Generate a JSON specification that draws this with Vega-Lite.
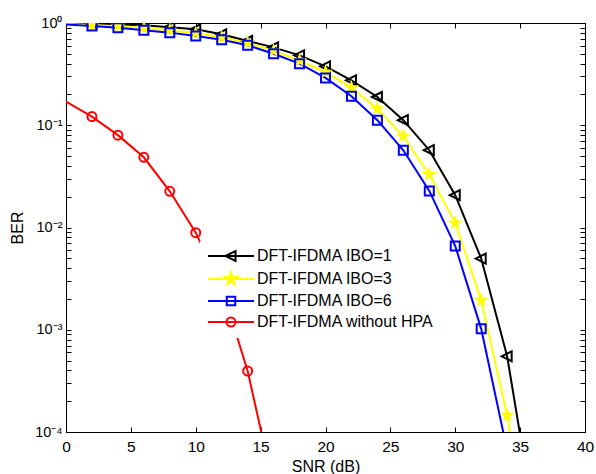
{
  "$schema": "https://vega.github.io/schema/vega-lite/v6.json",
  "width": 519,
  "height": 409,
  "autosize": {"type": "none"},
  "padding": {"left": 66, "top": 23, "right": 11, "bottom": 42},
  "background": "white",
  "config": {
    "font": "Liberation Sans",
    "view": {"stroke": "black", "strokeWidth": 1},
    "axis": {"domainColor": "black", "tickColor": "black", "labelColor": "black", "titleColor": "black", "grid": false, "labelFont": "Liberation Sans", "titleFont": "Liberation Sans", "titleFontWeight": "normal", "domainWidth": 1, "tickWidth": 1}
  },
  "datasets": {
    "ber": [
      {"series": "DFT-IFDMA IBO=1", "snr": 0, "ber": 0.995},
      {"series": "DFT-IFDMA IBO=1", "snr": 2, "ber": 0.985},
      {"series": "DFT-IFDMA IBO=1", "snr": 4, "ber": 0.97},
      {"series": "DFT-IFDMA IBO=1", "snr": 6, "ber": 0.95},
      {"series": "DFT-IFDMA IBO=1", "snr": 8, "ber": 0.91},
      {"series": "DFT-IFDMA IBO=1", "snr": 10, "ber": 0.867},
      {"series": "DFT-IFDMA IBO=1", "snr": 12, "ber": 0.775},
      {"series": "DFT-IFDMA IBO=1", "snr": 14, "ber": 0.667},
      {"series": "DFT-IFDMA IBO=1", "snr": 16, "ber": 0.578},
      {"series": "DFT-IFDMA IBO=1", "snr": 18, "ber": 0.483},
      {"series": "DFT-IFDMA IBO=1", "snr": 20, "ber": 0.377},
      {"series": "DFT-IFDMA IBO=1", "snr": 22, "ber": 0.275},
      {"series": "DFT-IFDMA IBO=1", "snr": 24, "ber": 0.189},
      {"series": "DFT-IFDMA IBO=1", "snr": 26, "ber": 0.112},
      {"series": "DFT-IFDMA IBO=1", "snr": 28, "ber": 0.057},
      {"series": "DFT-IFDMA IBO=1", "snr": 30, "ber": 0.0207},
      {"series": "DFT-IFDMA IBO=1", "snr": 32, "ber": 0.00497},
      {"series": "DFT-IFDMA IBO=1", "snr": 34, "ber": 0.00055},
      {"series": "DFT-IFDMA IBO=1", "snr": 36, "ber": 0.000016},
      {"series": "DFT-IFDMA IBO=3", "snr": 0, "ber": 0.98},
      {"series": "DFT-IFDMA IBO=3", "snr": 2, "ber": 0.955},
      {"series": "DFT-IFDMA IBO=3", "snr": 4, "ber": 0.93},
      {"series": "DFT-IFDMA IBO=3", "snr": 6, "ber": 0.895},
      {"series": "DFT-IFDMA IBO=3", "snr": 8, "ber": 0.85},
      {"series": "DFT-IFDMA IBO=3", "snr": 10, "ber": 0.795},
      {"series": "DFT-IFDMA IBO=3", "snr": 12, "ber": 0.725},
      {"series": "DFT-IFDMA IBO=3", "snr": 14, "ber": 0.64},
      {"series": "DFT-IFDMA IBO=3", "snr": 16, "ber": 0.535},
      {"series": "DFT-IFDMA IBO=3", "snr": 18, "ber": 0.43},
      {"series": "DFT-IFDMA IBO=3", "snr": 20, "ber": 0.33},
      {"series": "DFT-IFDMA IBO=3", "snr": 22, "ber": 0.233},
      {"series": "DFT-IFDMA IBO=3", "snr": 24, "ber": 0.145},
      {"series": "DFT-IFDMA IBO=3", "snr": 26, "ber": 0.078},
      {"series": "DFT-IFDMA IBO=3", "snr": 28, "ber": 0.033},
      {"series": "DFT-IFDMA IBO=3", "snr": 30, "ber": 0.0111},
      {"series": "DFT-IFDMA IBO=3", "snr": 32, "ber": 0.00194},
      {"series": "DFT-IFDMA IBO=3", "snr": 34, "ber": 0.000146},
      {"series": "DFT-IFDMA IBO=3", "snr": 36, "ber": 0.000005},
      {"series": "DFT-IFDMA IBO=6", "snr": 0, "ber": 0.965},
      {"series": "DFT-IFDMA IBO=6", "snr": 2, "ber": 0.935},
      {"series": "DFT-IFDMA IBO=6", "snr": 4, "ber": 0.9},
      {"series": "DFT-IFDMA IBO=6", "snr": 6, "ber": 0.85},
      {"series": "DFT-IFDMA IBO=6", "snr": 8, "ber": 0.805},
      {"series": "DFT-IFDMA IBO=6", "snr": 10, "ber": 0.746},
      {"series": "DFT-IFDMA IBO=6", "snr": 12, "ber": 0.687},
      {"series": "DFT-IFDMA IBO=6", "snr": 14, "ber": 0.605},
      {"series": "DFT-IFDMA IBO=6", "snr": 16, "ber": 0.5},
      {"series": "DFT-IFDMA IBO=6", "snr": 18, "ber": 0.4},
      {"series": "DFT-IFDMA IBO=6", "snr": 20, "ber": 0.29},
      {"series": "DFT-IFDMA IBO=6", "snr": 22, "ber": 0.192},
      {"series": "DFT-IFDMA IBO=6", "snr": 24, "ber": 0.112},
      {"series": "DFT-IFDMA IBO=6", "snr": 26, "ber": 0.0569},
      {"series": "DFT-IFDMA IBO=6", "snr": 28, "ber": 0.0228},
      {"series": "DFT-IFDMA IBO=6", "snr": 30, "ber": 0.00659},
      {"series": "DFT-IFDMA IBO=6", "snr": 32, "ber": 0.00102},
      {"series": "DFT-IFDMA IBO=6", "snr": 34, "ber": 0.000066},
      {"series": "DFT-IFDMA without HPA", "snr": 0, "ber": 0.17},
      {"series": "DFT-IFDMA without HPA", "snr": 2, "ber": 0.1216},
      {"series": "DFT-IFDMA without HPA", "snr": 4, "ber": 0.08},
      {"series": "DFT-IFDMA without HPA", "snr": 6, "ber": 0.0486},
      {"series": "DFT-IFDMA without HPA", "snr": 8, "ber": 0.0226},
      {"series": "DFT-IFDMA without HPA", "snr": 10, "ber": 0.0089},
      {"series": "DFT-IFDMA without HPA", "snr": 12, "ber": 0.0026},
      {"series": "DFT-IFDMA without HPA", "snr": 14, "ber": 0.000395},
      {"series": "DFT-IFDMA without HPA", "snr": 16, "ber": 0.000029}
    ]
  },
  "data": {"name": "ber"},
  "resolve": {"axis": {"x": "independent", "y": "independent"}},
  "layer": [
    {
      "encoding": {
        "x": {"field": "snr", "type": "quantitative", "scale": {"domain": [0, 40]},
          "axis": {"orient": "bottom", "values": [0, 5, 10, 15, 20, 25, 30, 35, 40], "tickSize": -5, "labelPadding": 12, "labelFontSize": 15.5, "labelFlush": false, "labelOverlap": false, "title": "SNR (dB)", "titleFontSize": 16, "titlePadding": 4}},
        "y": {"field": "ber", "type": "quantitative", "scale": {"type": "log", "domain": [0.0001, 1]},
          "axis": {"orient": "left", "values": [0.0001, 0.0002, 0.0003, 0.0004, 0.0005, 0.0006, 0.0007, 0.0008, 0.0009, 0.001, 0.002, 0.003, 0.004, 0.005, 0.006, 0.007, 0.008, 0.009, 0.01, 0.02, 0.03, 0.04, 0.05, 0.06, 0.07, 0.08, 0.09, 0.1, 0.2, 0.3, 0.4, 0.5, 0.6, 0.7, 0.8, 0.9, 1],
            "labelExpr": "abs(log(datum.value)/LN10 - round(log(datum.value)/LN10)) < 0.001 ? '10' + ['⁰','⁻¹','⁻²','⁻³','⁻⁴'][-round(log(datum.value)/LN10)] : ''",
            "tickSize": -5, "labelPadding": 9, "labelFontSize": 14.5, "labelOverlap": false, "labelFlush": false, "title": "BER", "titleFontSize": 16, "titlePadding": 9}}
      },
      "layer": [
        {
          "transform": [{"filter": "datum.series == 'DFT-IFDMA IBO=1'"}],
          "mark": {"type": "line", "strokeWidth": 2, "clip": true, "color": "#000000"}
        },
        {
          "transform": [{"filter": "datum.series == 'DFT-IFDMA IBO=3'"}],
          "mark": {"type": "line", "strokeWidth": 2, "clip": true, "color": "#ffff00"}
        },
        {
          "transform": [{"filter": "datum.series == 'DFT-IFDMA IBO=6'"}],
          "mark": {"type": "line", "strokeWidth": 2, "clip": true, "color": "#0000ff"}
        },
        {
          "transform": [{"filter": "datum.series == 'DFT-IFDMA without HPA'"}],
          "mark": {"type": "line", "strokeWidth": 2, "clip": true, "color": "#ff0000"}
        },
        {
          "transform": [{"filter": "datum.series == 'DFT-IFDMA IBO=1' && datum.snr > 0"}],
          "mark": {"type": "point", "shape": "M-1.1,0L0.9,-1L0.9,1Z", "size": 100, "stroke": "#000000", "fill": "transparent", "strokeWidth": 2, "opacity": 1, "clip": true}
        },
        {
          "transform": [{"filter": "datum.series == 'DFT-IFDMA IBO=3' && datum.snr > 0"}],
          "mark": {"type": "point", "shape": "M0,-1.1L0.247,-0.34L1.046,-0.34L0.4,0.13L0.647,0.89L0,0.42L-0.647,0.89L-0.4,0.13L-1.046,-0.34L-0.247,-0.34Z", "size": 100, "stroke": "#ffff00", "fill": "#ffff00", "strokeWidth": 1.5, "opacity": 1, "clip": true}
        },
        {
          "transform": [{"filter": "datum.series == 'DFT-IFDMA IBO=6' && datum.snr > 0"}],
          "mark": {"type": "point", "shape": "M-0.9,-0.9H0.9V0.9H-0.9Z", "size": 100, "stroke": "#0000ff", "fill": "transparent", "strokeWidth": 2, "opacity": 1, "clip": true}
        },
        {
          "transform": [{"filter": "datum.series == 'DFT-IFDMA without HPA' && datum.snr > 0"}],
          "mark": {"type": "point", "shape": "M-0.9,0A0.9,0.9,0,1,1,0.9,0A0.9,0.9,0,1,1,-0.9,0Z", "size": 100, "stroke": "#ff0000", "fill": "transparent", "strokeWidth": 2, "opacity": 1, "clip": true}
        },
        {
          "transform": [{"filter": "datum.snr == 0"}],
          "mark": {"type": "point", "size": 100, "strokeWidth": 2, "opacity": 1, "strokeOpacity": 0, "fillOpacity": 0, "clip": true},
          "encoding": {
            "shape": {"field": "series", "type": "nominal", "scale": {"domain": ["DFT-IFDMA IBO=1", "DFT-IFDMA IBO=3", "DFT-IFDMA IBO=6", "DFT-IFDMA without HPA"], "range": ["M-4.6,0H4.6M-1.1,0L0.9,-1L0.9,1Z", "M-4.6,0H4.6M0,-1.3L0.292,-0.402L1.236,-0.402L0.473,0.154L0.764,1.052L0,0.497L-0.764,1.052L-0.473,0.154L-1.236,-0.402L-0.292,-0.402Z", "M-4.6,0H4.6M-0.85,-0.85H0.85V0.85H-0.85Z", "M-4.6,0H4.6M-0.9,0A0.9,0.9,0,1,1,0.9,0A0.9,0.9,0,1,1,-0.9,0Z"]},
              "legend": {"orient": "none", "legendX": 134, "legendY": 218, "title": null, "fillColor": "white", "padding": 7, "symbolSize": 100, "symbolStrokeWidth": 2, "labelFontSize": 16, "labelFont": "Liberation Sans", "labelColor": "black", "labelLimit": 400, "rowPadding": 3, "labelOffset": 18, "symbolOffset": 16}},
            "stroke": {"field": "series", "type": "nominal", "scale": {"domain": ["DFT-IFDMA IBO=1", "DFT-IFDMA IBO=3", "DFT-IFDMA IBO=6", "DFT-IFDMA without HPA"], "range": ["#000000", "#ffff00", "#0000ff", "#ff0000"]},
              "legend": {"orient": "none", "legendX": 134, "legendY": 218, "title": null, "fillColor": "white", "padding": 7, "symbolSize": 100, "symbolStrokeWidth": 2, "labelFontSize": 16, "labelFont": "Liberation Sans", "labelColor": "black", "labelLimit": 400, "rowPadding": 3, "labelOffset": 18, "symbolOffset": 16}},
            "fill": {"field": "series", "type": "nominal", "scale": {"domain": ["DFT-IFDMA IBO=1", "DFT-IFDMA IBO=3", "DFT-IFDMA IBO=6", "DFT-IFDMA without HPA"], "range": ["transparent", "#ffff00", "transparent", "transparent"]},
              "legend": {"orient": "none", "legendX": 134, "legendY": 218, "title": null, "fillColor": "white", "padding": 7, "symbolSize": 100, "symbolStrokeWidth": 2, "labelFontSize": 16, "labelFont": "Liberation Sans", "labelColor": "black", "labelLimit": 400, "rowPadding": 3, "labelOffset": 18, "symbolOffset": 16}}
          }
        }
      ]
    },
    {
      "transform": [{"filter": "datum.snr < 0"}],
      "mark": {"type": "point", "opacity": 0},
      "encoding": {
        "x": {"field": "snr", "type": "quantitative", "scale": {"domain": [0, 40]},
          "axis": {"orient": "top", "values": [0, 5, 10, 15, 20, 25, 30, 35, 40], "tickSize": -5, "labels": false, "title": null}},
        "y": {"field": "ber", "type": "quantitative", "scale": {"type": "log", "domain": [0.0001, 1]},
          "axis": {"orient": "right", "values": [0.0001, 0.0002, 0.0003, 0.0004, 0.0005, 0.0006, 0.0007, 0.0008, 0.0009, 0.001, 0.002, 0.003, 0.004, 0.005, 0.006, 0.007, 0.008, 0.009, 0.01, 0.02, 0.03, 0.04, 0.05, 0.06, 0.07, 0.08, 0.09, 0.1, 0.2, 0.3, 0.4, 0.5, 0.6, 0.7, 0.8, 0.9, 1], "tickSize": -5, "labels": false, "title": null}}
      }
    }
  ]
}
